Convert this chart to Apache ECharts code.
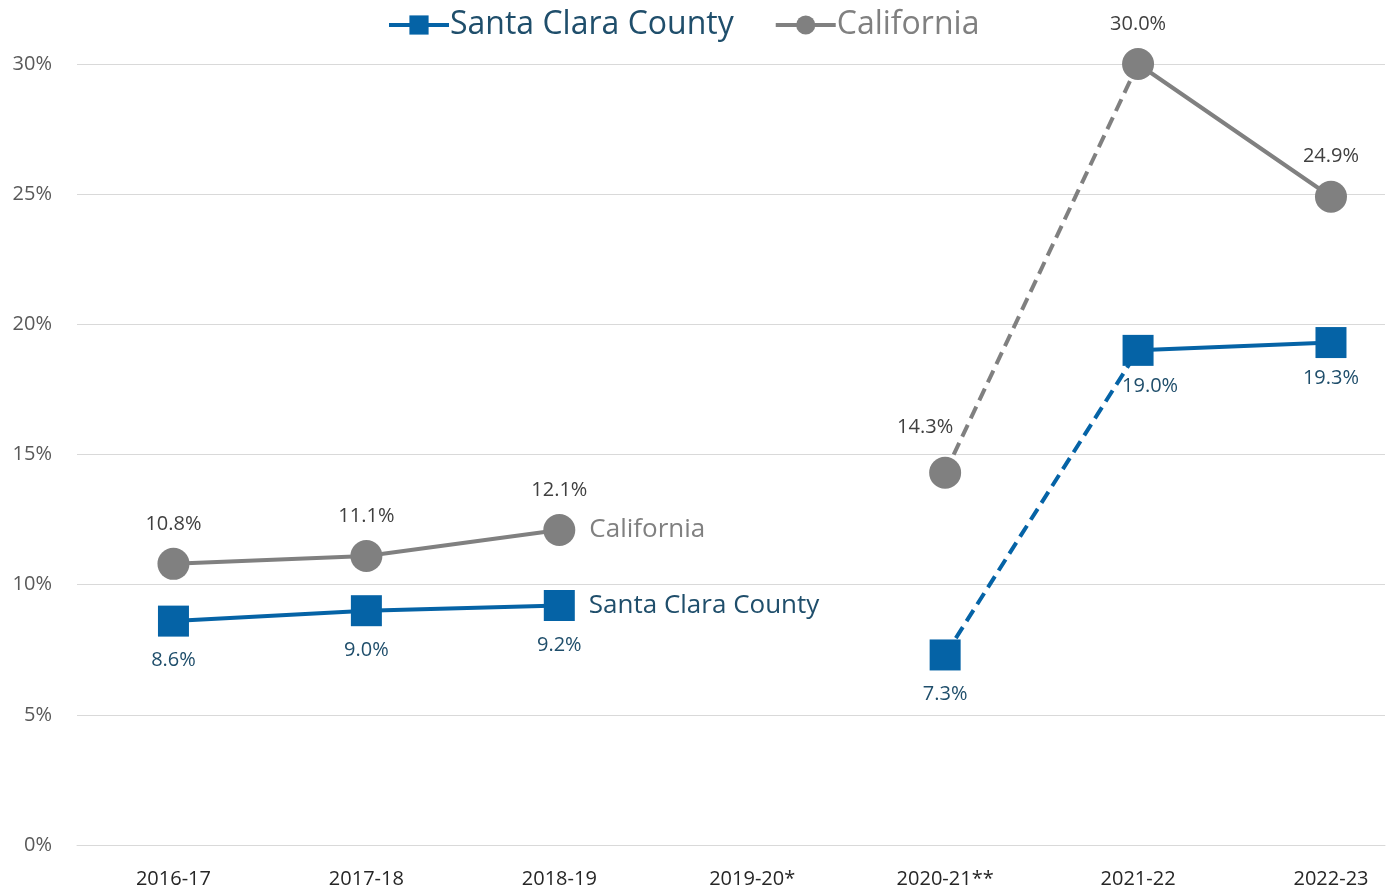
<!DOCTYPE html>
<html>
<head>
<meta charset="utf-8">
<title>Santa Clara County vs California</title>
<script src="https://cdn.jsdelivr.net/npm/echarts@6/dist/echarts.min.js"></script>
<style>
  html, body { margin: 0; padding: 0; background: #fff; }
  #chart { width: 1396px; height: 890px; }
</style>
</head>
<body>
<div id="chart"></div>
<script>
// school years on the x axis
const categories = ["2016-17", "2017-18", "2018-19", "2019-20*", "2020-21**", "2021-22", "2022-23"];
// percent values, null = no data that year
const santaClara = [8.6, 9.0, 9.2, null, 7.3, 19.0, 19.3];
const california = [10.8, 11.1, 12.1, null, 14.3, 30.0, 24.9];
// y ticks
const yTicks = [0, 5, 10, 15, 20, 25, 30];
// the 2020-21 -> 2021-22 step is drawn dashed
const dashStart = 4;
const dashEnd = 5;

const BLUE = "#0563a6";
const BLUE_TEXT = "#1f4e6b";
const GRAY = "#808080";
const GRAY_TEXT = "#404040";
const FONT = "Open Sans";

// solid part: everything except the dashed start point
function solidData(arr) {
  return arr.map((v, i) => [i, i === dashStart ? null : v]);
}
function dashedData(arr) {
  return [[dashStart, arr[dashStart]], [dashEnd, arr[dashEnd]]];
}
const pct = (p) => p.value[1].toFixed(1) + "%";

const chart = echarts.init(document.getElementById("chart"));

chart.setOption({
  animation: false,
  textStyle: { fontFamily: FONT },
  grid: { left: 77, right: 11, top: 64, bottom: 45 },
  legend: {
    top: 4,
    left: 382,
    itemWidth: 60,
    itemHeight: 24,
    itemGap: 40,
    lineStyle: { width: 4 },
    data: [
      { name: "Santa Clara County", textStyle: { color: BLUE_TEXT } },
      { name: "California", textStyle: { color: GRAY } }
    ],
    textStyle: { fontFamily: FONT, fontSize: 32, padding: [0, 0, 0, -4] }
  },
  xAxis: {
    type: "value",
    min: -0.5,
    max: 6.28,
    splitLine: { show: false },
    axisTick: { show: false },
    axisLine: { show: true, lineStyle: { color: "#d9d9d9", width: 1 } },
    axisLabel: {
      customValues: categories.map((c, i) => i),
      formatter: (v) => categories[v],
      color: "#262626",
      fontSize: 20,
      margin: 24
    }
  },
  yAxis: {
    type: "value",
    min: yTicks[0],
    max: yTicks[yTicks.length - 1],
    interval: 5,
    axisLine: { show: false },
    axisTick: { show: false },
    splitLine: { lineStyle: { color: "#d9d9d9", width: 1 } },
    axisLabel: {
      formatter: "{value}%",
      color: "#595959",
      fontSize: 20,
      margin: 25
    }
  },
  series: [
    {
      name: "California",
      type: "line",
      data: solidData(california),
      symbol: "circle",
      symbolSize: 32,
      color: GRAY,
      lineStyle: { color: GRAY, width: 4 },
      itemStyle: { color: GRAY },
      label: {
        show: true, position: "top", distance: 14,
        formatter: pct, color: GRAY_TEXT, fontSize: 20
      },
      z: 2
    },
    {
      name: "California dashed",
      type: "line",
      data: dashedData(california),
      symbol: "none",
      lineStyle: { color: GRAY, width: 4, type: [13, 7] },
      z: 1
    },
    {
      name: "Santa Clara County",
      type: "line",
      data: solidData(santaClara),
      symbol: "rect",
      symbolSize: 31,
      color: BLUE,
      lineStyle: { color: BLUE, width: 4 },
      itemStyle: { color: BLUE },
      label: {
        show: true, position: "bottom", distance: 14,
        formatter: pct, color: BLUE_TEXT, fontSize: 20
      },
      labelLayout: (p) => {
        if (p.dataIndex >= dashEnd) return { dy: -4, dx: p.dataIndex === dashEnd ? 12 : 0 };
        return {};
      },
      z: 4
    },
    {
      name: "Santa Clara dashed",
      type: "line",
      data: dashedData(santaClara),
      symbol: "none",
      lineStyle: { color: BLUE, width: 4, type: [13, 7] },
      z: 3
    },
    {
      // markers + labels for the start of the dashed segments
      type: "scatter",
      data: [[dashStart, california[dashStart]]],
      symbol: "circle",
      symbolSize: 32,
      itemStyle: { color: GRAY, opacity: 1 },
      label: {
        show: true, position: "top", distance: 14, offset: [-20, -5],
        formatter: pct, color: GRAY_TEXT, fontSize: 20
      },
      z: 2
    },
    {
      type: "scatter",
      data: [[dashStart, santaClara[dashStart]]],
      symbol: "rect",
      symbolSize: 31,
      itemStyle: { color: BLUE, opacity: 1 },
      label: {
        show: true, position: "bottom", distance: 14,
        formatter: pct, color: BLUE_TEXT, fontSize: 20
      },
      z: 4
    },
    {
      // series name labels next to 2018-19
      type: "scatter",
      silent: true,
      data: [[2, california[2]]],
      symbolSize: 32,
      itemStyle: { color: "rgba(0,0,0,0)", opacity: 1 },
      label: {
        show: true, position: "right", distance: 14,
        formatter: "California", color: GRAY, fontSize: 26
      }
    },
    {
      type: "scatter",
      silent: true,
      data: [[2, santaClara[2]]],
      symbolSize: 31,
      itemStyle: { color: "rgba(0,0,0,0)", opacity: 1 },
      label: {
        show: true, position: "right", distance: 14,
        formatter: "Santa Clara County", color: BLUE_TEXT, fontSize: 26
      }
    }
  ]
});

window.addEventListener("resize", function () {
  chart.resize();
});
</script>
</body>
</html>
